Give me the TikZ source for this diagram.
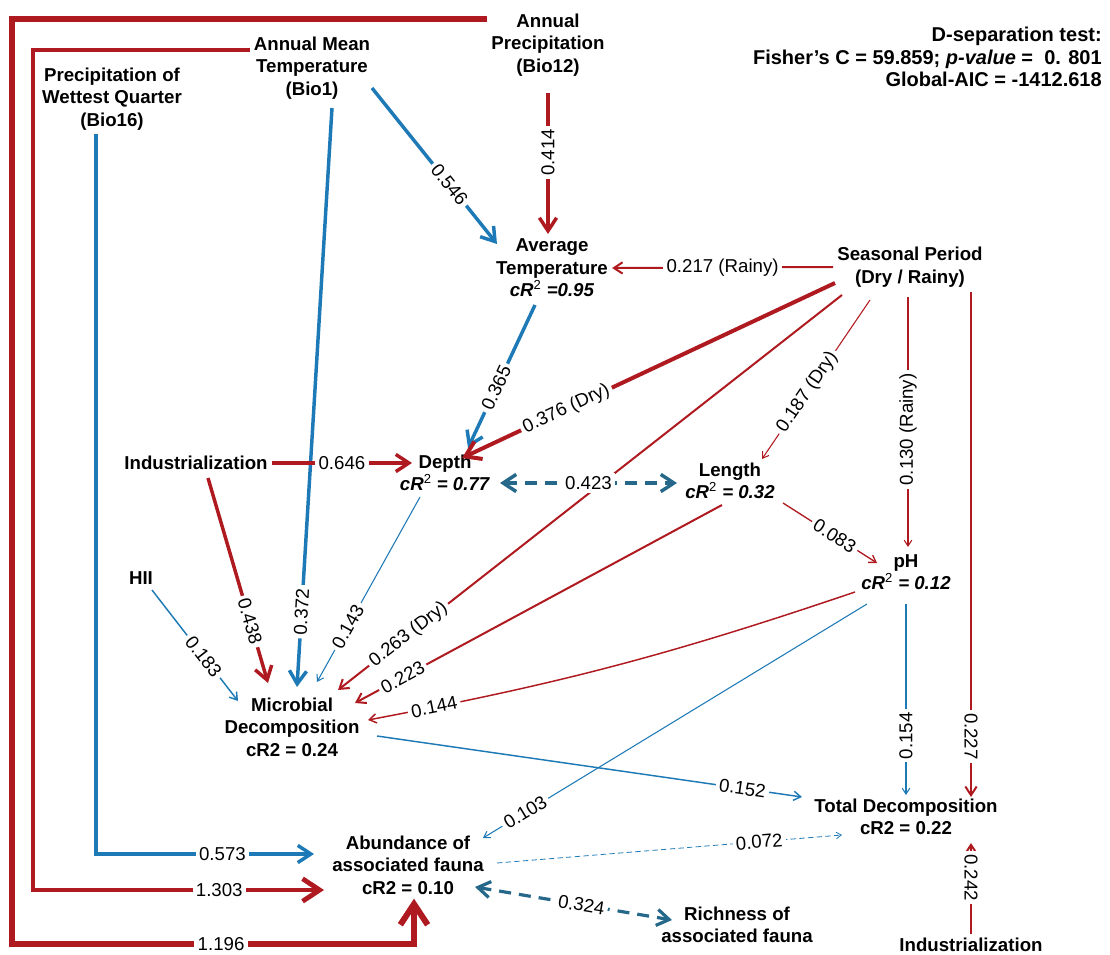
\documentclass[tikz,border=0pt]{standalone}
\usepackage{fontspec}
\setmainfont{Liberation Sans}
\usetikzlibrary{arrows.meta,calc}
\definecolor{rdc}{RGB}{174,26,32}
\definecolor{blc}{RGB}{30,122,182}
\definecolor{tlc}{RGB}{38,104,138}
\newcommand{\crsq}[1]{\textit{cR}\textsuperscript{\normalfont 2}\textit{#1}}

\begin{document}
\begin{tikzpicture}[x=0.75pt, y=-0.75pt,
    var/.style={font=\bfseries\fontsize{14}{16.9}\selectfont, align=center, inner sep=3pt},
    lbl/.style={font=\fontsize{14}{16.9}\selectfont, fill=white, inner sep=2.5pt},
    arr/.style={-{Straight Barb[length=2pt 3, width=2.5pt 4]}},
    both/.style={{Straight Barb[length=2pt 3, width=2.5pt 4]}-{Straight Barb[length=2pt 3, width=2.5pt 4]}},
    rd/.style={draw=rdc},
    bl/.style={draw=blc},
    tl/.style={draw=tlc, dash pattern=on 9pt off 6pt},
    lw1/.style={line width=0.8pt},
    lw2/.style={line width=1.5pt},
    lw3/.style={line width=2.6pt},
    lw4/.style={line width=3.6pt},
    lw5/.style={line width=4.5pt},
]
\useasboundingbox (0,0) rectangle (1110,955);

% Variables
\node[var] (bioAp)  at (548,45)  {Annual\\Precipitation\\(Bio12)};
\node[var] (bioAmt) at (312,68)  {Annual Mean\\Temperature\\(Bio1)};
\node[var] (bioPwq) at (112,99)  {Precipitation of\\Wettest Quarter\\(Bio16)};
\node[var, align=right, anchor=east, font=\bfseries\fontsize{15}{16.9}\selectfont] (dsep) at (1106,57)
    {D-separation test:\\Fisher's C = 59.859; \textit{p-value} =\ \ 0. 801\\Global-AIC = -1412.618};
\node[var] (avgT)   at (552,268) {Average\\Temperature\\\crsq{ =0.95}};
\node[var] (season) at (910,267) {Seasonal Period\\(Dry / Rainy)};
\node[var] (indL)   at (196,463) {Industrialization};
\node[var] (depth)  at (445,473) {Depth\\\crsq{ = 0.77}};
\node[var] (len)    at (730,481) {Length\\\crsq{ = 0.32}};
\node[var] (ph)     at (906,572) {pH\\\crsq{ = 0.12}};
\node[var] (hii)    at (141,578) {HII};
\node[var] (micro)  at (292,727) {Microbial\\Decomposition\\cR2 = 0.24};
\node[var] (total)  at (906,817) {Total Decomposition\\cR2 = 0.22};
\node[var] (abund)  at (408,865) {Abundance of\\associated fauna\\cR2 = 0.10};
\node[var] (rich)   at (737,925) {Richness of\\associated fauna};
\node[var] (indR)   at (971,945) {Industrialization};

% Climate paths
\draw[arr, rd, lw3] ($(bioAp)+(0,48)$) -- node[lbl, rotate=90, pos=.42] {0.414} ($(avgT)+(-4,-34)$);
\draw[arr, bl, lw3] ($(bioAmt)+(60,20)$) -- node[lbl, sloped, pos=.62] {0.546} ($(avgT)+(-55,-24)$);
\draw[arr, bl, lw3] ($(bioAmt)+(20,40)$) -- node[lbl, sloped, pos=.87] {0.372} ($(micro)+(5,-40)$);
\draw[arr, rd, lw2] (season.west) -- node[lbl] {0.217 (Rainy)} (avgT.east);
\draw[arr, bl, lw3] ($(avgT)+(-17,37)$) -- node[lbl, sloped, pos=.58] {0.365} ($(depth)+(23,-25)$);
\draw[arr, rd, lw3] (indL.east) -- node[lbl, pos=.5] {0.646} ($(depth)+(-33,-10)$);
\draw[arr, rd, line width=3pt] ($(season)+(-75,16)$) -- node[lbl, sloped, pos=.72] {0.376 (Dry)} ($(depth)+(17,-15)$);
\draw[arr, rd, lw2] ($(season)+(-68,28)$) -- node[lbl, sloped, pos=.86] {0.263 (Dry)} ($(micro)+(46,-37)$);

% Into microbial decomposition
\draw[arr, rd, lw2] ($(len)+(-8,24)$) -- node[lbl, sloped, pos=.87] {0.223} ($(micro)+(63,-24)$);
\draw[arr, rd, line width=1.1pt] ($(ph)+(-51,20)$) to[bend left=4] node[lbl, sloped, pos=.88] {0.144} ($(micro)+(76,-7)$);
\draw[arr, bl, lw1] ($(depth)+(-25,24)$) -- node[lbl, sloped, pos=.70] {0.143} ($(micro)+(25,-45)$);
\draw[arr, bl, line width=1.1pt] ($(hii)+(11,12)$) -- node[lbl, sloped, pos=.6] {0.183} ($(micro)+(-54,-26)$);
\draw[arr, rd, lw3] ($(indL)+(12,15)$) -- node[lbl, sloped, pos=.70] {0.438} ($(micro)+(-24,-44)$);

% Depth - Length
\draw[both, tl, lw3] ($(depth)+(55,10)$) -- node[lbl] {0.423} ($(len)+(-53,2)$);

% Seasonal period
\draw[arr, rd, lw1] ($(season)+(-40,33)$) -- node[lbl, sloped, pos=.58] {0.187 (Dry)} ($(len)+(32,-22)$);
\draw[arr, rd, lw1] ($(season)+(-2,30)$) -- node[lbl, rotate=90, pos=.53] {0.130 (Rainy)} ($(ph)+(2,-25)$);
\draw[arr, rd, lw2] ($(season)+(61,25)$) -- node[lbl, rotate=-90, pos=.88] {0.227} ($(total)+(65,-20)$);
\draw[arr, rd, line width=1pt] ($(len)+(53,22)$) -- node[lbl, sloped, pos=.55] {0.083} ($(ph)+(-29,-9)$);

% Total decomposition and fauna
\draw[arr, rd, lw2] (indR.north) -- node[lbl, rotate=-90, pos=.62] {0.242} ($(total)+(65,26)$);
\draw[arr, bl, lw1] ($(ph)+(0,32)$) -- node[lbl, rotate=90, pos=.69] {0.154} ($(total)+(0,-22)$);
\draw[arr, bl, line width=1.1pt] ($(micro)+(85,9)$) -- node[lbl, sloped, pos=.86] {0.152} ($(total)+(-104,-20)$);
\draw[arr, bl, lw1] ($(ph)+(-39,32)$) -- node[lbl, sloped, pos=.89] {0.103} ($(abund)+(75,-27)$);
\draw[arr, bl, line width=0.6pt, dash pattern=on 4pt off 2.5pt] ($(abund)+(89,-2)$) -- node[lbl, sloped, pos=.76] {0.072} ($(total)+(-64,18)$);
\draw[both, tl, line width=2.4pt] ($(abund)+(67,22)$) -- node[lbl, sloped, pos=.54] {0.324} ($(rich)+(-65,-5)$);

% Rails from the climate variables
\coordinate (topO) at (12,19);
\coordinate (topM) at (33,50);
\coordinate (railO) at (12,944);
\draw[arr, rd, lw5, line join=miter] (bioAp.west |- topO) -- (topO) -- (railO) -| node[lbl, pos=.26] {1.196} ($(abund.south)+(6,0)$);
\draw[arr, rd, lw4, line join=miter] (bioAmt.west |- topM) -- (topM) |- node[lbl, pos=.82] {1.303} ($(abund.west)+(-4,25)$);
\draw[arr, bl, lw3, line join=miter] ($(bioPwq.south)+(-16,0)$) |- node[lbl, pos=.79] {0.573} ($(abund.west)+(-14,-11)$);

\end{tikzpicture}
\end{document}
